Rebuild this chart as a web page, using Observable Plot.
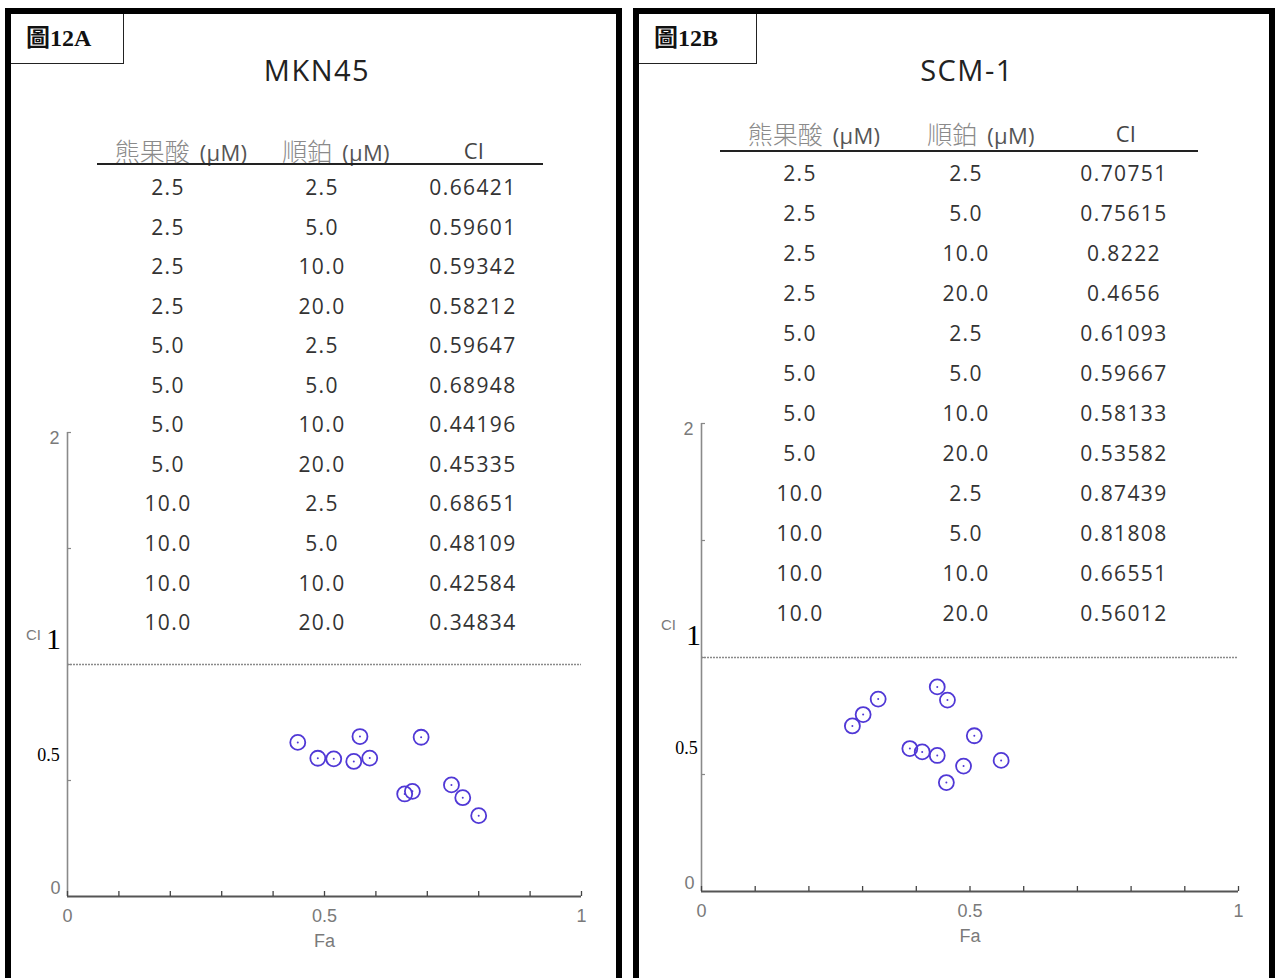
<!DOCTYPE html>
<html><head><meta charset="utf-8">
<script src="https://cdn.jsdelivr.net/npm/d3@7"></script>
<script src="https://cdn.jsdelivr.net/npm/@observablehq/plot@0.6"></script>
<style>
body{margin:0;background:#fff;}
#root{position:relative;width:1275px;height:978px;overflow:hidden;background:#fff;font-family:"Open Sans","Noto Sans",sans-serif;}
.panel{position:absolute;top:8px;height:1000px;border:6px solid #000;border-bottom:none;box-sizing:border-box;}
.tag{position:absolute;top:14px;height:50px;box-sizing:border-box;border-right:1.5px solid #222;border-bottom:1.5px solid #222;background:#fff;font-family:"Liberation Serif","Noto Sans CJK TC",serif;font-weight:bold;font-size:24px;color:#111;line-height:1;}
.tag span{position:absolute;left:15px;top:12px;}
.title{position:absolute;transform:translate(-50%,-50%);font-size:29px;letter-spacing:1.5px;color:#222;white-space:nowrap;}
.cell{position:absolute;transform:translate(-50%,-50%);font-size:21px;letter-spacing:1.4px;color:#333;white-space:nowrap;line-height:1;}
.hdr{position:absolute;transform:translate(-50%,-50%);font-size:22px;letter-spacing:0.3px;color:#555;white-space:nowrap;line-height:1;}
.hdr .cjk{display:inline-block;font-family:"Noto Sans CJK TC",sans-serif;font-size:25px;color:#8a8a8a;font-weight:300;letter-spacing:0;margin-right:10px;}
.rule{position:absolute;height:2px;background:#222;}
.plot{position:absolute;}
</style></head>
<body><div id="root"></div>
<script>
// ---------- data ----------
const headers = ["熊果酸 (μM)", "順鉑 (μM)", "CI"];
const ursolicA   = [2.5, 2.5, 2.5, 2.5, 5.0, 5.0, 5.0, 5.0, 10.0, 10.0, 10.0, 10.0];
const cisplatinA = [2.5, 5.0, 10.0, 20.0, 2.5, 5.0, 10.0, 20.0, 2.5, 5.0, 10.0, 20.0];
const ciA  = [0.66421, 0.59601, 0.59342, 0.58212, 0.59647, 0.68948, 0.44196, 0.45335, 0.68651, 0.48109, 0.42584, 0.34834];
const faA  = [0.448, 0.487, 0.518, 0.557, 0.588, 0.569, 0.656, 0.671, 0.688, 0.747, 0.769, 0.800];
const ursolicB   = [2.5, 2.5, 2.5, 2.5, 5.0, 5.0, 5.0, 5.0, 10.0, 10.0, 10.0, 10.0];
const cisplatinB = [2.5, 5.0, 10.0, 20.0, 2.5, 5.0, 10.0, 20.0, 2.5, 5.0, 10.0, 20.0];
const ciB  = [0.70751, 0.75615, 0.8222, 0.4656, 0.61093, 0.59667, 0.58133, 0.53582, 0.87439, 0.81808, 0.66551, 0.56012];
const faB  = [0.281, 0.301, 0.329, 0.456, 0.388, 0.411, 0.439, 0.488, 0.439, 0.458, 0.508, 0.558];
const xMinorTicks = [0, 0.1, 0.2, 0.3, 0.4, 0.5, 0.6, 0.7, 0.8, 0.9, 1];
const xTickLabels = [0, 0.5, 1];
const yMinorTicks = [0.5, 1, 1.5, 2];
const yTopLabel = [2];
const yBottomLabel = [0];
const ciRef = [1];
const serifBig = [1];
const serifSmall = [0.5];

// ---------- layout ----------
const panels = [
  {tag:"圖12A", title:"MKN45", ursolic:ursolicA, cis:cisplatinA, ci:ciA, fa:faA,
   box:{left:5,width:617}, tagBox:{left:11,width:113},
   titleX:317, titleY:69,
   hdrX:[181,336,474], hdrY:150, rule:{x1:97,x2:543,y:163},
   colX:[168,322,473], row0:187, step:39.55,
   plot:{left:0,top:400,w:620,h:580,ml:67,mr:39,mt:32,mb:84},
   lab:{ciDx:-34,ciDy:-29,oneDx:-14,oneDy:-25,halfDx:-19,halfDy:-25}},
  {tag:"圖12B", title:"SCM-1", ursolic:ursolicB, cis:cisplatinB, ci:ciB, fa:faB,
   box:{left:633,width:642}, tagBox:{left:639,width:118},
   titleX:967, titleY:69,
   hdrX:[814,981,1126], hdrY:133, rule:{x1:720,x2:1198,y:150},
   colX:[800,966,1124], row0:173, step:40,
   plot:{left:640,top:400,w:620,h:580,ml:61,mr:22,mt:23,mb:89},
   lab:{ciDx:-33,ciDy:-32,oneDx:-8,oneDy:-22,halfDx:-15,halfDy:-26}}
];

const root = document.getElementById("root");
function el(cls, css, html){const d=document.createElement("div");d.className=cls;Object.assign(d.style,css);if(html!==undefined)d.innerHTML=html;root.appendChild(d);return d;}
const fmt1 = v => v.toFixed(1);

for (const P of panels) {
  el("panel", {left:P.box.left+"px", width:P.box.width+"px"});
  el("tag", {left:P.tagBox.left+"px", width:P.tagBox.width+"px"}, `<span>${P.tag}</span>`);
  el("title", {left:P.titleX+"px", top:P.titleY+"px"}, P.title);
  headers.forEach((h,i)=>{
    const parts = h.split(" ");
    const html = parts.length>1 ? `<span class="cjk">${parts[0]}</span>${parts.slice(1).join(" ")}` : h;
    el("hdr", {left:P.hdrX[i]+"px", top:P.hdrY+"px", color: i===2?"#444":"#555"}, html);
  });
  el("rule", {left:P.rule.x1+"px", width:(P.rule.x2-P.rule.x1)+"px", top:P.rule.y+"px"});
  P.ci.forEach((c,r)=>{
    const y = P.row0 + r*P.step;
    el("cell", {left:P.colX[0]+"px", top:y+"px"}, fmt1(P.ursolic[r]));
    el("cell", {left:P.colX[1]+"px", top:y+"px"}, fmt1(P.cis[r]));
    el("cell", {left:P.colX[2]+"px", top:y+"px"}, String(c));
  });

  const data = P.fa.map((f,i)=>({fa:f, ci:P.ci[i]}));
  const L = P.plot, Lb = P.lab;
  const grey = "#7a7a7a";
  const sans = "'Liberation Sans Narrow','Liberation Sans',sans-serif";
  const chart = Plot.plot({
    width:L.w, height:L.h, marginLeft:L.ml, marginRight:L.mr, marginTop:L.mt, marginBottom:L.mb,
    x:{domain:[0,1], label:null}, y:{domain:[0,2], label:null},
    style:{background:"transparent", overflow:"visible", fontFamily:sans},
    marks:[
      Plot.ruleY(ciRef, {stroke:"#8a8a8a", strokeWidth:1.4, strokeDasharray:"2,1"}),
      Plot.ruleX([0], {stroke:"#8a8a8a", strokeWidth:1.6}),
      Plot.ruleY([0], {stroke:"#555", strokeWidth:1.8}),
      Plot.axisX({ticks:xMinorTicks, tickSize:-5, tickFormat:()=>"", label:null, stroke:"#444", strokeWidth:1.3}),
      Plot.axisY({ticks:yMinorTicks, tickSize:-4, tickFormat:()=>"", label:null, stroke:"#888", strokeWidth:1.2}),
      Plot.text(xTickLabels, {x:d=>d, frameAnchor:"bottom", dy:25, text:d=>String(d), fill:grey, fontSize:18}),
      Plot.text(["Fa"], {frameAnchor:"bottom", dy:50, text:d=>d, fill:grey, fontSize:18}),
      Plot.text(yTopLabel, {y:d=>d, frameAnchor:"left", textAnchor:"middle", dx:-13, dy:6, text:d=>String(d), fill:grey, fontSize:18}),
      Plot.text(yBottomLabel, {y:d=>d, frameAnchor:"left", textAnchor:"middle", dx:-12, dy:-8, text:d=>String(d), fill:grey, fontSize:18}),
      Plot.text(ciRef, {y:d=>d, frameAnchor:"left", textAnchor:"middle", dx:Lb.ciDx, dy:Lb.ciDy, text:()=>"CI", fill:grey, fontSize:15}),
      Plot.text(serifBig, {y:d=>d, frameAnchor:"left", textAnchor:"middle", dx:Lb.oneDx, dy:Lb.oneDy, text:d=>String(d), fill:"#000", fontSize:30, fontFamily:"'Liberation Serif',serif"}),
      Plot.text(serifSmall, {y:d=>d, frameAnchor:"left", textAnchor:"middle", dx:Lb.halfDx, dy:Lb.halfDy, text:d=>String(d), fill:"#000", fontSize:18, fontFamily:"'Liberation Serif',serif"}),
      Plot.dot(data, {x:"fa", y:"ci", r:7.5, stroke:"#5038d6", strokeWidth:1.8, fill:"none"}),
      Plot.dot(data, {x:"fa", y:"ci", r:1, fill:"#5038d6", stroke:"none"})
    ]
  });
  const wrap = el("plot", {left:L.left+"px", top:L.top+"px", width:L.w+"px", height:L.h+"px"});
  wrap.appendChild(chart);
}
</script>
</body></html>
